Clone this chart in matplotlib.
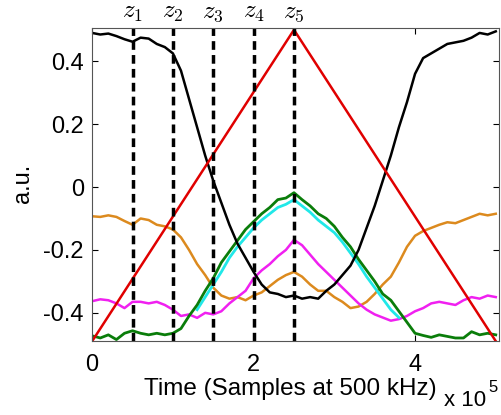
import matplotlib.pyplot as plt
import numpy as np

plt.rcParams['font.family'] = 'Liberation Sans'
plt.rcParams['mathtext.fontset'] = 'cm'

# time axis in units of 1e5 samples
t = np.arange(0, 5.01, 0.1)

black = [0.49, 0.485, 0.488, 0.48, 0.47, 0.462, 0.475, 0.472, 0.455, 0.445,
         0.425, 0.37, 0.28, 0.19, 0.10, 0.02, -0.05, -0.12, -0.18, -0.225,
         -0.27, -0.31, -0.335, -0.34, -0.35, -0.345, -0.355, -0.35, -0.355, -0.33,
         -0.31, -0.28, -0.25, -0.20, -0.13, -0.06, 0.02, 0.10, 0.19, 0.27,
         0.36, 0.41, 0.425, 0.44, 0.455, 0.46, 0.465, 0.475, 0.49, 0.485, 0.495]

orange = [-0.093, -0.095, -0.09, -0.095, -0.108, -0.12, -0.1, -0.105, -0.12, -0.125,
          -0.135, -0.16, -0.2, -0.245, -0.28, -0.32, -0.345, -0.355, -0.35, -0.36,
          -0.345, -0.335, -0.315, -0.295, -0.28, -0.27, -0.285, -0.31, -0.33, -0.33,
          -0.35, -0.365, -0.385, -0.38, -0.365, -0.34, -0.31, -0.285, -0.24, -0.19,
          -0.155, -0.14, -0.13, -0.12, -0.112, -0.115, -0.105, -0.095, -0.085, -0.09, -0.085]

magenta = [-0.363, -0.357, -0.36, -0.37, -0.385, -0.365, -0.365, -0.37, -0.365, -0.375,
           -0.39, -0.41, -0.405, -0.416, -0.4, -0.405, -0.395, -0.37, -0.35, -0.33,
           -0.29, -0.265, -0.245, -0.22, -0.2, -0.168, -0.185, -0.215, -0.245, -0.27,
           -0.295, -0.32, -0.345, -0.37, -0.39, -0.405, -0.415, -0.425, -0.42, -0.41,
           -0.395, -0.385, -0.37, -0.365, -0.37, -0.375, -0.36, -0.35, -0.355, -0.345, -0.35]

green = [-0.473, -0.48, -0.47, -0.485, -0.465, -0.457, -0.465, -0.47, -0.465, -0.47,
         -0.465, -0.45, -0.41, -0.375, -0.33, -0.29, -0.24, -0.205, -0.17, -0.135,
         -0.11, -0.085, -0.065, -0.04, -0.035, -0.018, -0.04, -0.06, -0.085, -0.1,
         -0.125, -0.16, -0.19, -0.23, -0.265, -0.3, -0.34, -0.36, -0.395, -0.43,
         -0.465, -0.472, -0.478, -0.47, -0.475, -0.48, -0.48, -0.46, -0.47, -0.465, -0.47]

t_cyan = np.arange(1.3, 3.81, 0.1)
cyan = [-0.39, -0.35, -0.31, -0.27, -0.225, -0.19, -0.16, -0.13, -0.105, -0.085,
        -0.065, -0.055, -0.04, -0.06, -0.08, -0.105, -0.125, -0.145, -0.175, -0.21,
        -0.245, -0.285, -0.32, -0.355, -0.39, -0.415]

t_red = [0.0, 2.5, 5.0]
red = [-0.49, 0.5, -0.49]

z_pos = [0.5, 1.0, 1.5, 2.0, 2.5]
z_labels = ['$z_1$', '$z_2$', '$z_3$', '$z_4$', '$z_5$']

fig = plt.figure(figsize=(5.01, 4.15), dpi=100)
ax = fig.add_axes([0.184, 0.178, 0.812, 0.754])

ax.plot(t, orange, color='#dc8a1e', lw=1.8)
ax.plot(t, magenta, color='#f020f0', lw=1.8)
ax.plot(t_cyan, cyan, color='#20e8e8', lw=2.0)
ax.plot(t, green, color='#0a7d0a', lw=2.0)
ax.plot(t, black, color='black', lw=1.8)
ax.plot(t_red, red, color='#e00000', lw=1.8)

for zp, zl in zip(z_pos, z_labels):
    ax.axvline(zp, color='black', lw=2.5, ls=(0, (2.5, 1.5)))
    ax.text(zp, 1.015, zl, transform=ax.get_xaxis_transform(), ha='center', va='bottom', fontsize=18)

ax.set_xlim(0, 5.04)
ax.set_ylim(-0.49, 0.505)
ax.set_xticks([0, 2, 4])
ax.set_xticklabels(['0', '2', '4'])
ax.set_yticks([-0.4, -0.2, 0, 0.2, 0.4])
ax.set_yticklabels(['-0.4', '-0.2', '0', '0.2', '0.4'])
ax.tick_params(direction='in', length=4, labelsize=17, top=True, right=True)
ax.tick_params(axis='x', pad=9)
ax.tick_params(axis='y', pad=6)
for s in ax.spines.values():
    s.set_color('#555555')

fig.text(0.58, 0.063, 'Time (Samples at 500 kHz)', ha='center', va='center', fontsize=17.5)
fig.text(0.045, 0.557, 'a.u.', rotation=90, ha='center', va='center', fontsize=17)
fig.text(0.886, 0.022, 'x 10', ha='left', va='baseline', fontsize=16)
fig.text(0.975, 0.056, '5', ha='left', va='baseline', fontsize=12)

fig.savefig('out.png', dpi=100)
